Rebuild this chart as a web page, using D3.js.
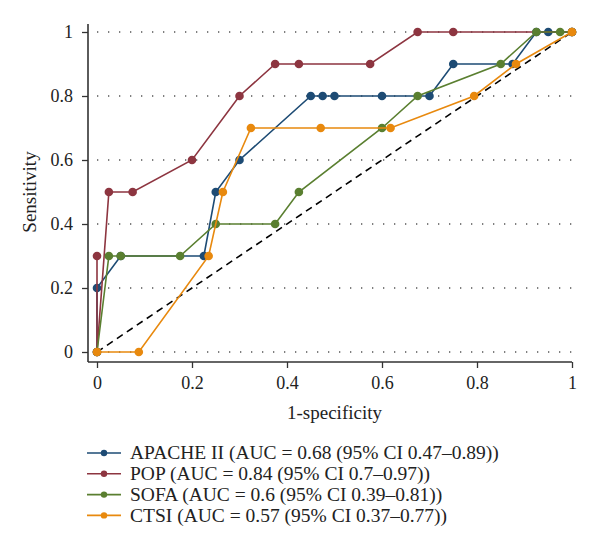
<!DOCTYPE html>
<html>
<head>
<meta charset="utf-8">
<script src="https://cdn.jsdelivr.net/npm/d3@7"></script>
<style>
body { margin: 0; background: #fff; }
svg text { font-family: "Liberation Serif", "DejaVu Serif", serif; fill: #222; }
</style>
</head>
<body>
<script>
// ROC curves, x = 1-specificity, y = sensitivity
apacheX = [0, 0, 0.05, 0.225, 0.25, 0.3, 0.45, 0.475, 0.5, 0.6, 0.7, 0.75, 0.875, 0.925, 0.95, 1]
apacheY = [0, 0.2, 0.3, 0.3, 0.5, 0.6, 0.8, 0.8, 0.8, 0.8, 0.8, 0.9, 0.9, 1, 1, 1]

popX = [0, 0, 0.025, 0.075, 0.2, 0.3, 0.375, 0.425, 0.575, 0.675, 0.75, 1]
popY = [0.3, 0, 0.5, 0.5, 0.6, 0.8, 0.9, 0.9, 0.9, 1, 1, 1]

sofaX = [0, 0.025, 0.05, 0.175, 0.25, 0.375, 0.425, 0.6, 0.675, 0.85, 0.925, 0.975, 1]
sofaY = [0, 0.3, 0.3, 0.3, 0.4, 0.4, 0.5, 0.7, 0.8, 0.9, 1, 1, 1]

ctsiX = [0, 0.088, 0.235, 0.265, 0.324, 0.471, 0.618, 0.794, 0.882, 1]
ctsiY = [0, 0, 0.3, 0.5, 0.7, 0.7, 0.7, 0.8, 0.9, 1]

seriesNames = ["APACHE II (AUC = 0.68 (95% CI 0.47\u20130.89))",
        "POP (AUC = 0.84 (95% CI 0.7\u20130.97))",
        "SOFA (AUC = 0.6 (95% CI 0.39\u20130.81))",
        "CTSI (AUC = 0.57 (95% CI 0.37\u20130.77))"]
seriesColors = ["#1d4b74", "#8d3540", "#5a7f30", "#e8890e"]
ticks = [0, 0.2, 0.4, 0.6, 0.8, 1]

function zip(xs, ys) {
        return xs.map(function(v, i) { return [v, ys[i]] })
}

// draw order: last one on top
series = [
        {name: seriesNames[0], color: seriesColors[0], pts: zip(apacheX, apacheY)},
        {name: seriesNames[1], color: seriesColors[1], pts: zip(popX, popY)},
        {name: seriesNames[2], color: seriesColors[2], pts: zip(sofaX, sofaY)},
        {name: seriesNames[3], color: seriesColors[3], pts: zip(ctsiX, ctsiY)}
]

w = 600
h = 560

svg = d3.select("body").append("svg")
        .attr("width", w)
        .attr("height", h)

x = d3.scaleLinear().domain([0, 1]).range([97, 572])
y = d3.scaleLinear().domain([0, 1]).range([352, 32])

axisX0 = 88
axisY0 = 362

// dotted grid
svg.append("g").selectAll("line").data(ticks)
        .enter().append("line")
        .attr("x1", x(0))
        .attr("x2", x(1))
        .attr("y1", function(d) { return y(d) })
        .attr("y2", function(d) { return y(d) })
        .attr("stroke", "#555")
        .attr("stroke-width", 1.3)
        .attr("stroke-dasharray", "1.3,9.7")

// y axis
yAxis = svg.append("g")
        .attr("transform", "translate(" + axisX0 + ",0)")
        .call(d3.axisLeft(y).tickValues(ticks).tickSize(6).tickPadding(9)
                .tickFormat(d3.format("~g")))
yAxis.select(".domain").remove()
yAxis.selectAll("line").attr("stroke", "#333").attr("stroke-width", 1.3)
yAxis.selectAll("text").style("font-size", "18px").attr("fill", "#222")

svg.append("line")
        .attr("x1", axisX0).attr("x2", axisX0)
        .attr("y1", 24).attr("y2", axisY0)
        .attr("stroke", "#333").attr("stroke-width", 1.6)

// x axis
xAxis = svg.append("g")
        .attr("transform", "translate(0," + axisY0 + ")")
        .call(d3.axisBottom(x).tickValues(ticks).tickSize(6).tickPadding(8.5)
                .tickFormat(d3.format("~g")))
xAxis.select(".domain").remove()
xAxis.selectAll("line").attr("stroke", "#333").attr("stroke-width", 1.3)
xAxis.selectAll("text").style("font-size", "18px").attr("fill", "#222")

svg.append("line")
        .attr("x1", axisX0).attr("x2", x(1))
        .attr("y1", axisY0).attr("y2", axisY0)
        .attr("stroke", "#333").attr("stroke-width", 1.6)

// axis titles
svg.append("text")
        .attr("x", (x(0) + x(1)) / 2)
        .attr("y", 419)
        .attr("text-anchor", "middle")
        .style("font-size", "19px")
        .text("1-specificity")

svg.append("text")
        .attr("transform", "translate(36," + y(0.5) + ") rotate(-90)")
        .attr("text-anchor", "middle")
        .style("font-size", "19px")
        .text("Sensitivity")

// reference diagonal
svg.append("line")
        .attr("x1", x(0)).attr("y1", y(0))
        .attr("x2", x(1)).attr("y2", y(1))
        .attr("stroke", "#000")
        .attr("stroke-width", 1.6)
        .attr("stroke-dasharray", "7,5")

line = d3.line()
        .x(function(d) { return x(d[0]) })
        .y(function(d) { return y(d[1]) })

curves = svg.append("g").selectAll("g").data(series)
        .enter().append("g")

curves.append("path")
        .attr("d", function(d) { return line(d.pts) })
        .attr("fill", "none")
        .attr("stroke", function(d) { return d.color })
        .attr("stroke-width", 1.6)

curves.selectAll("circle")
        .data(function(d) { return d.pts.map(function(p) { return {p: p, color: d.color} }) })
        .enter().append("circle")
        .attr("cx", function(d) { return x(d.p[0]) })
        .attr("cy", function(d) { return y(d.p[1]) })
        .attr("r", 4.3)
        .attr("fill", function(d) { return d.color })

// legend
legend = svg.append("g").selectAll("g").data(series)
        .enter().append("g")
        .attr("transform", function(d, i) { return "translate(0," + (453 + i * 20.8) + ")" })

legend.append("line")
        .attr("x1", 87).attr("x2", 121)
        .attr("stroke", function(d) { return d.color })
        .attr("stroke-width", 1.6)

legend.append("circle")
        .attr("cx", 104)
        .attr("r", 3.2)
        .attr("fill", function(d) { return d.color })

legend.append("text")
        .attr("x", 130)
        .attr("dy", "0.33em")
        .style("font-size", "19.5px")
        .text(function(d) { return d.name })
</script>
</body>
</html>
